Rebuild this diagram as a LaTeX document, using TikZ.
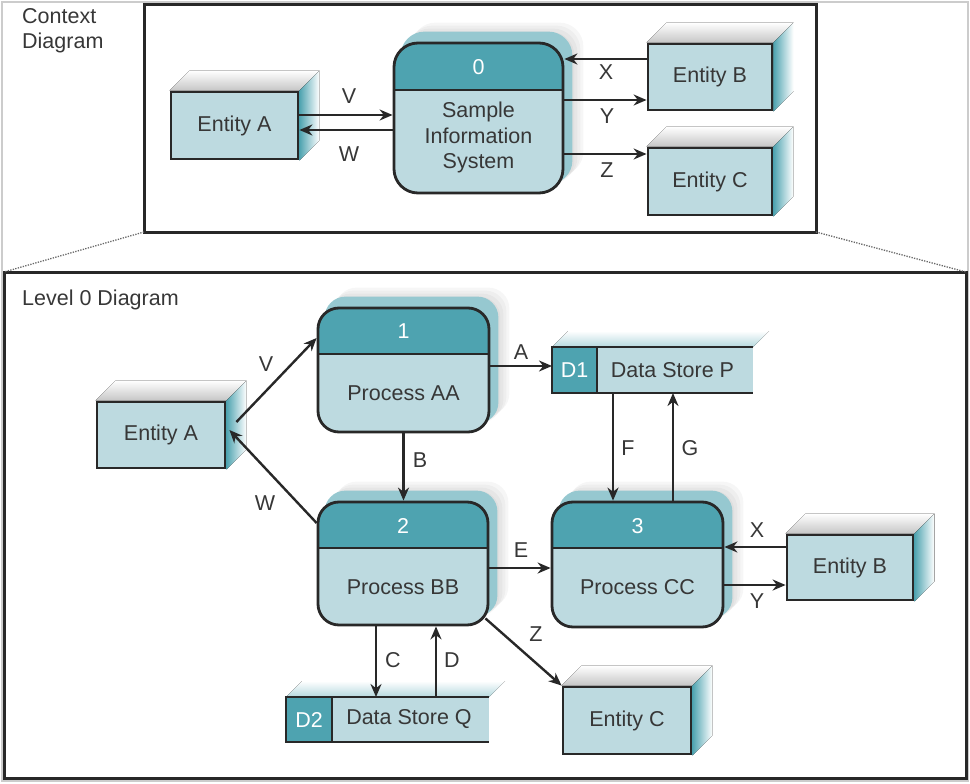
\documentclass[tikz,border=0pt]{standalone}
\usepackage{fontspec}
\setmainfont{Liberation Sans}
\usetikzlibrary{arrows.meta,backgrounds}
\definecolor{lb}{RGB}{189,218,224}
\definecolor{hd}{RGB}{78,163,176}
\definecolor{sl}{RGB}{150,200,208}
\definecolor{lc}{RGB}{40,40,40}
\definecolor{tx}{RGB}{55,55,55}
\tikzset{
 txt/.style={font=\fontsize{21.5}{25.5}\selectfont, text=tx, inner sep=0pt},
 num/.style={font=\fontsize{21.5}{25.5}\selectfont, text=white, inner sep=0pt},
 ent/.style={txt, draw=lc, line width=2.8pt, fill=lb},
 proc/.style 2 args={draw=lc, line width=2.8pt, fill=lb, rounded corners=#2, inner sep=0pt,
   path picture={\fill[hd, sharp corners] (path picture bounding box.north west) rectangle ([yshift=-#1]path picture bounding box.north east);
   \draw[lc, line width=2.8pt, sharp corners] ([yshift=-#1]path picture bounding box.north west) -- ([yshift=-#1]path picture bounding box.north east);}},
 ds/.style={fill=lb, draw=none, inner sep=0pt, outer sep=0pt},
 dsline/.style={draw=lc, line width=2.8pt},
 dsid/.style={num, fill=hd, draw=lc, line width=2.8pt, outer sep=0pt},
 arr/.style={draw=lc, line width=2.4pt, -{Stealth[length=13pt, width=11pt]}},
 frame/.style={draw=lc, line width=3pt, inner sep=0pt, outer sep=0pt},
 dotl/.style={draw=gray!80!black, line width=1.3pt, dash pattern=on 1.3pt off 1.3pt},
}
\newcommand\entext[1]{%
 \fill[top color=white, bottom color=gray!45] (#1.north west) -- ([shift={(20pt,20pt)}]#1.north west) -- ([shift={(20pt,20pt)}]#1.north east) -- (#1.north east) -- cycle;
 \fill[left color=hd, middle color=gray!35, right color=white] (#1.north east) -- ([shift={(20pt,20pt)}]#1.north east) -- ([shift={(20pt,20pt)}]#1.south east) -- (#1.south east) -- cycle;}
\newcommand\procext[2]{%
 \foreach \s in {10,13,16,19}{\fill[gray, opacity=0.07, rounded corners=#2] ([shift={(\s pt,\s pt)}]#1.south west) rectangle ([shift={(\s pt,\s pt)}]#1.north east);}
 \fill[sl, rounded corners=#2] ([shift={(8pt,10pt)}]#1.south west) rectangle ([shift={(8pt,10pt)}]#1.north east);}
\newcommand\dsext[1]{%
 \fill[top color=white, bottom color=sl!70] (#1.north west) -- ([shift={(16pt,16pt)}]#1.north west) -- ([shift={(16pt,16pt)}]#1.north east) -- (#1.north east) -- cycle;}
\begin{document}
\begin{tikzpicture}[x=1pt,y=-1pt]
\useasboundingbox (0,0) rectangle (970,784);
\draw[gray!40, line width=1.5pt] (2,2) rectangle (968,781);
% frames
\node[frame, minimum width=672pt, minimum height=227pt, anchor=north west] (ctx) at (144,5) {};
\node[frame, minimum width=962pt, minimum height=506pt, anchor=north west] (lvl) at (4,272) {};
\draw[dotl] (ctx.south west) -- (lvl.north west);
\draw[dotl] (ctx.south east) -- (lvl.north east);
\node[txt, align=left, anchor=north west] (ttl1) at (22,8) {Context\\Diagram};
\node[txt, anchor=west] (ttl2) at (22,300) {Level 0 Diagram};
% ---------- context diagram
\node[ent, minimum width=127pt, minimum height=67pt] (cEA) at (234.5,125.5) {Entity A};
\node[proc={47pt}{24pt}, minimum width=169pt, minimum height=150pt] (cP0) at (478.5,118) {};
\node[num] (cN0) at ([yshift=-25pt]cP0.north) {0};
\node[txt, align=center] (cT0) at ([yshift=-19.5pt]cP0.center) {Sample\\Information\\System};
\node[ent, minimum width=124pt, minimum height=66pt] (cEB) at (710,77) {Entity B};
\node[ent, minimum width=124pt, minimum height=67pt] (cEC) at (710,181.5) {Entity C};
\draw[arr] ([yshift=10.5pt]cEA.east) -- ([yshift=3pt]cP0.west);
\draw[arr] ([yshift=-12pt]cP0.west) -- ([yshift=-4.5pt]cEA.east);
\draw[arr] ([yshift=18pt]cEB.west) -- ([yshift=59pt]cP0.east);
\draw[arr] ([yshift=18pt]cP0.east) -- ([yshift=-23pt]cEB.west);
\draw[arr] ([yshift=-36pt]cP0.east) -- ([yshift=27.5pt]cEC.west);
\node[txt] (cLV) at (349,96) {V};
\node[txt] (cLW) at (349,154) {W};
\node[txt] (cLX) at (606,72) {X};
\node[txt] (cLY) at (607,116) {Y};
\node[txt] (cLZ) at (607,170) {Z};
% ---------- level 0
\node[ent, minimum width=128pt, minimum height=66pt] (EA) at (161,435) {Entity A};
\node[proc={46pt}{21pt}, minimum width=171pt, minimum height=124pt] (P1) at (403.5,370) {};
\node[num] (N1) at ([yshift=-25pt]P1.north) {1};
\node[txt] (T1) at ([yshift=-23pt]P1.center) {Process AA};
\node[proc={46pt}{21pt}, minimum width=170pt, minimum height=123pt] (P2) at (403,563.5) {};
\node[num] (N2) at ([yshift=-25pt]P2.north) {2};
\node[txt] (T2) at ([yshift=-23.5pt]P2.center) {Process BB};
\node[proc={46pt}{21pt}, minimum width=171pt, minimum height=125pt] (P3) at (637.5,564.5) {};
\node[num] (N3) at ([yshift=-25pt]P3.north) {3};
\node[txt] (T3) at ([yshift=-22.5pt]P3.center) {Process CC};
\node[ent, minimum width=126pt, minimum height=65pt] (EB) at (850,567.5) {Entity B};
\node[ent, minimum width=128pt, minimum height=67pt] (EC) at (627,720.5) {Entity C};
% data stores
\node[ds, minimum width=201pt, minimum height=46pt] (D1) at (652.5,370) {};
\draw[dsline] (D1.north east) -- (D1.north west) -- (D1.south west) -- (D1.south east);
\node[dsid, minimum width=45pt, minimum height=46pt, anchor=west] (D1i) at (D1.west) {D1};
\node[txt] (D1t) at ([xshift=20pt]D1.center) {Data Store P};
\node[ds, minimum width=203pt, minimum height=45pt] (D2) at (387.5,719.5) {};
\draw[dsline] (D2.north east) -- (D2.north west) -- (D2.south west) -- (D2.south east);
\node[dsid, minimum width=46pt, minimum height=45pt, anchor=west] (D2i) at (D2.west) {D2};
\node[txt] (D2t) at ([xshift=21.5pt]D2.center) {Data Store Q};
% connectors
\draw[arr] ([shift={(10pt,13pt)}]EA.east) -- ([yshift=32pt]P1.west);
\draw[arr] ([yshift=40.5pt]P2.west) -- ([shift={(3pt,5pt)}]EA.east);
\draw[arr] ([yshift=4pt]P1.east) -- ([yshift=4pt]D1.west);
\draw[arr] (P1.south) -- (P1.south |- P2.north);
\draw[arr] ([yshift=-4.5pt]P2.east) -- ([yshift=-3.5pt]P3.west);
\draw[arr] ([xshift=-39.5pt]D1.south) -- ([xshift=-24.5pt]P3.north);
\draw[arr] ([xshift=35.5pt]P3.north) -- ([xshift=20.5pt]D1.south);
\draw[arr] ([yshift=20.5pt]EB.west) -- ([yshift=17.5pt]P3.east);
\draw[arr] ([yshift=-20.5pt]P3.east) -- ([yshift=-17.5pt]EB.west);
\draw[arr] ([shift={(-4pt,8pt)}]P2.south east) -- (EC.north west);
\draw[arr] ([xshift=-27pt]P2.south) -- ([xshift=-11.5pt]D2.north);
\draw[arr] ([xshift=48.5pt]D2.north) -- ([xshift=33pt]P2.south);
\node[txt] (LV) at (266,364) {V};
\node[txt] (LW) at (265,503) {W};
\node[txt] (LA) at (521,352) {A};
\node[txt] (LB) at (420,460) {B};
\node[txt] (LE) at (521,550) {E};
\node[txt] (LF) at (628,448) {F};
\node[txt] (LG) at (690,448) {G};
\node[txt] (LX) at (757,530) {X};
\node[txt] (LY) at (757,601) {Y};
\node[txt] (LZ) at (536,634) {Z};
\node[txt] (LC) at (393,660) {C};
\node[txt] (LD) at (452,660) {D};
% 3D effects
\begin{scope}[on background layer]
 \entext{cEA}\entext{cEB}\entext{cEC}
 \entext{EA}\entext{EB}\entext{EC}
 \procext{cP0}{24pt}
 \procext{P1}{21pt}\procext{P2}{21pt}\procext{P3}{21pt}
 \dsext{D1}\dsext{D2}
\end{scope}
\end{tikzpicture}
\end{document}
